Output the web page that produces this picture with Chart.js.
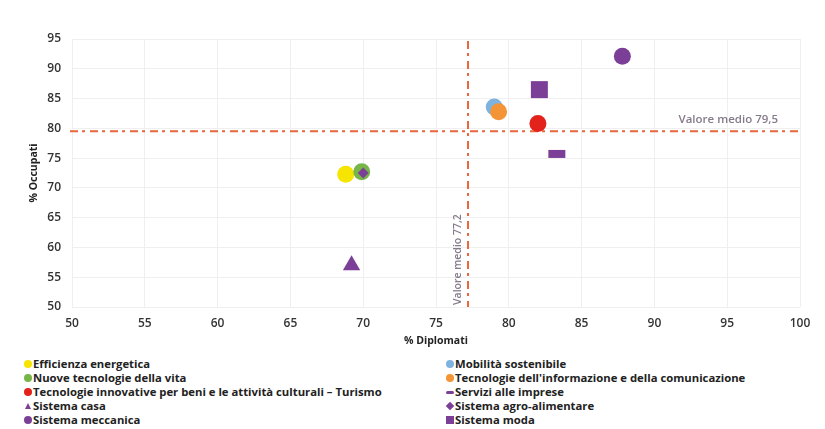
<!DOCTYPE html>
<html>
<head>
<meta charset="utf-8">
<script src="https://cdn.jsdelivr.net/npm/chart.js@4.4.0/dist/chart.umd.min.js"></script>
<style>
  body { margin: 0; background: #fff; font-family: "Open Sans", sans-serif; }
  #wrap { position: relative; width: 825px; height: 350px; }
  #legend { position: relative; width: 825px; height: 79px; }
  .item { position: absolute; font-size: 11.3px; font-weight: 700; color: #222; white-space: nowrap; line-height: 13px; }
  .mk { display: inline-block; vertical-align: middle; margin-right: 1px; position: relative; top: -1px; }
</style>
</head>
<body>
<div id="wrap"><canvas id="chart"></canvas></div>
<div id="legend"></div>
<script>
// settori in ordine alfabetico (come nella legenda)
const settori = [
  "Efficienza energetica",
  "Mobilità sostenibile",
  "Nuove tecnologie della vita",
  "Tecnologie dell'informazione e della comunicazione",
  "Tecnologie innovative per beni e le attività culturali – Turismo",
  "Servizi alle imprese",
  "Sistema casa",
  "Sistema agro-alimentare",
  "Sistema meccanica",
  "Sistema moda"
];
const diplomati = [68.8, 79.0, 69.9, 79.3, 82.0, 83.3, 69.2, 70.0, 87.8, 82.1];
const occupati  = [72.3, 83.6, 72.7, 82.8, 80.8, 75.7, 57.0, 72.5, 92.1, 86.5];
const mediaDiplomati = 77.2;
const mediaOccupati = 79.5;
const xTicks = [50, 55, 60, 65, 70, 75, 80, 85, 90, 95, 100];
const yTicks = [50, 55, 60, 65, 70, 75, 80, 85, 90, 95];

const purple = '#7b3f97';
const stili = {
  "Efficienza energetica": { color: '#f6e500', shape: 'circle', r: 8.5 },
  "Mobilità sostenibile": { color: '#7fb3df', shape: 'circle', r: 8.5 },
  "Nuove tecnologie della vita": { color: '#77b548', shape: 'circle', r: 8.5, order: 2 },
  "Tecnologie dell'informazione e della comunicazione": { color: '#f39536', shape: 'circle', r: 8.5, order: 1 },
  "Tecnologie innovative per beni e le attività culturali – Turismo": { color: '#e3231b', shape: 'circle', r: 8.5 },
  "Servizi alle imprese": { color: purple, shape: 'line', r: 8.5, bw: 8 },
  "Sistema casa": { color: purple, shape: 'triangle', r: 10 },
  "Sistema agro-alimentare": { color: purple, shape: 'rectRot', r: 5.5, order: 0 },
  "Sistema meccanica": { color: purple, shape: 'circle', r: 8.5 },
  "Sistema moda": { color: purple, shape: 'rect', r: 12 }
};

const datasets = settori.map((nome, i) => {
  const s = stili[nome];
  return {
    label: nome,
    data: [{ x: diplomati[i], y: occupati[i] }],
    pointStyle: s.shape,
    pointRadius: s.r,
    pointHoverRadius: s.r,
    backgroundColor: s.color,
    borderColor: s.color,
    pointBorderWidth: s.bw || 0,
    order: s.order !== undefined ? s.order : 3
  };
});

// linee dei valori medi
const meanLines = {
  id: 'meanLines',
  beforeDatasetsDraw(chart) {
    const { ctx, chartArea, scales: { x, y } } = chart;
    const px = x.getPixelForValue(mediaDiplomati);
    const py = y.getPixelForValue(mediaOccupati);
    ctx.save();
    ctx.strokeStyle = '#e8673a';
    ctx.lineWidth = 2;
    ctx.setLineDash([8, 4, 3, 5]);
    ctx.beginPath();
    ctx.moveTo(chartArea.left - 2, py);
    ctx.lineTo(chartArea.right, py);
    ctx.stroke();
    ctx.beginPath();
    ctx.moveTo(px, chartArea.top + 2);
    ctx.lineTo(px, chartArea.bottom);
    ctx.stroke();
    ctx.setLineDash([]);
    ctx.fillStyle = '#857a8a';
    ctx.font = '600 11.5px "Open Sans"';
    ctx.textAlign = 'right';
    ctx.textBaseline = 'bottom';
    ctx.fillText('Valore medio ' + String(mediaOccupati).replace('.', ','), chartArea.right - 22, py - 6);
    ctx.font = '600 10.5px "Open Sans"';
    ctx.translate(px - 10, chartArea.bottom - 2);
    ctx.rotate(-Math.PI / 2);
    ctx.textAlign = 'left';
    ctx.textBaseline = 'middle';
    ctx.fillText('Valore medio ' + String(mediaDiplomati).replace('.', ','), 0, 0);
    ctx.restore();
  }
};

new Chart(document.getElementById('chart'), {
  type: 'scatter',
  data: { datasets },
  options: {
    responsive: true,
    maintainAspectRatio: false,
    animation: false,
    layout: { padding: { top: 39, right: 25, left: 0, bottom: 0 } },
    plugins: { legend: { display: false }, tooltip: { enabled: false } },
    scales: {
      x: {
        min: 50, max: 100,
        afterBuildTicks: (s) => { s.ticks = xTicks.map(v => ({ value: v })); },
        afterFit: (s) => { s.height = 43; },
        grid: { color: '#efefef', drawTicks: false },
        border: { display: false },
        ticks: { padding: 9, color: '#333', font: { family: 'Open Sans', size: 12, weight: '600' } },
        title: { display: true, text: '% Diplomati', color: '#222', padding: { top: 0, bottom: 3 },
                 font: { family: 'Open Sans', size: 10.5, weight: '700' } }
      },
      y: {
        min: 50, max: 95,
        afterBuildTicks: (s) => { s.ticks = yTicks.map(v => ({ value: v })); },
        afterFit: (s) => { s.width = 72; },
        grid: { color: '#efefef', drawTicks: false },
        border: { display: false },
        ticks: { padding: 11, color: '#333', font: { family: 'Open Sans', size: 12, weight: '600' } },
        title: { display: true, text: '% Occupati', color: '#222', padding: { top: 28, bottom: 0 },
                 font: { family: 'Open Sans', size: 10.5, weight: '700' } }
      }
    }
  },
  plugins: [meanLines]
});

// legenda su due colonne
function marker(s) {
  const m = document.createElement('span');
  m.className = 'mk';
  const c = s.color;
  if (s.shape === 'circle') { m.style.cssText += `width:8px;height:8px;border-radius:50%;background:${c};`; }
  else if (s.shape === 'rect') { m.style.cssText += `width:8px;height:8px;background:${c};`; }
  else if (s.shape === 'rectRot') { m.style.cssText += `width:6px;height:6px;background:${c};transform:rotate(45deg);margin:0 2px 0 1px;`; }
  else if (s.shape === 'line') { m.style.cssText += `width:8px;height:3px;border-radius:2px;background:${c};`; }
  else if (s.shape === 'triangle') { m.style.cssText += `width:0;height:0;border-left:3px solid transparent;border-right:3px solid transparent;border-bottom:6px solid ${c};margin:0 2px 0 1px;`; }
  return m;
}
const legend = document.getElementById('legend');
settori.forEach((nome, i) => {
  const col = i % 2, row = Math.floor(i / 2);
  const el = document.createElement('div');
  el.className = 'item';
  el.style.left = (col ? 446 : 24) + 'px';
  el.style.top = (7 + row * 14.1) + 'px';
  el.appendChild(marker(stili[nome]));
  el.appendChild(document.createTextNode(nome));
  legend.appendChild(el);
});
</script>
</body>
</html>
